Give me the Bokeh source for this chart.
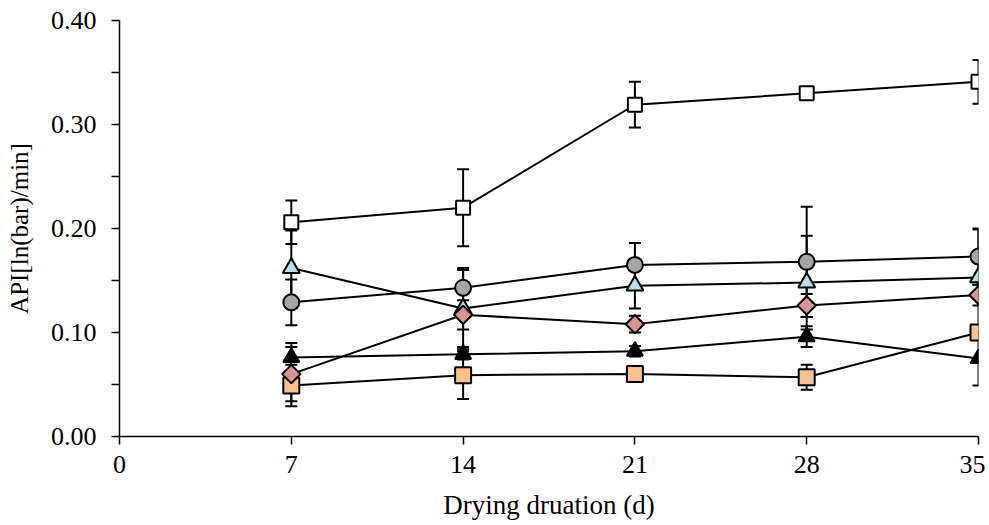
import math
from bokeh.plotting import figure
from bokeh.models import ColumnDataSource, Whisker, TeeHead, NumeralTickFormatter, FixedTicker, Range1d
from bokeh.embed import file_html
from bokeh.resources import INLINE

days = [7, 14, 21, 28, 35]
x_ticks = [0, 7, 14, 21, 28, 35]
y_ticks = [0.0, 0.1, 0.2, 0.3, 0.4]

white_sq = [0.206, 0.220, 0.319, 0.330, 0.341]
white_sq_err = [0.021, 0.037, 0.022, 0.004, 0.021]
grey_circle = [0.129, 0.143, 0.165, 0.168, 0.173]
grey_circle_err = [0.022, 0.019, 0.021, 0.053, 0.027]
blue_tri = [0.162, 0.123, 0.145, 0.148, 0.153]
blue_tri_err = [0.036, 0.037, 0.022, 0.045, 0.046]
pink_diamond = [0.060, 0.117, 0.108, 0.126, 0.136]
pink_diamond_err = [0.026, 0.014, 0.008, 0.011, 0.010]
black_tri = [0.076, 0.079, 0.082, 0.096, 0.075]
black_tri_err = [0.014, 0.005, 0.005, 0.010, 0.026]
orange_sq = [0.049, 0.059, 0.060, 0.057, 0.100]
orange_sq_err = [0.020, 0.023, 0.006, 0.012, 0.006]

FONT = "Liberation Serif"

p = figure(width=985, height=522, output_backend="svg", toolbar_location=None,
           x_range=Range1d(0, 35), y_range=Range1d(0, 0.40),
           min_border_left=119, min_border_right=7, min_border_top=20, min_border_bottom=85)
p.outline_line_color = None
p.xgrid.visible = False
p.ygrid.visible = False

# (values, errors, marker, fill, size, angle)
series = [
    (orange_sq, orange_sq_err, "square", "#FAC090", 16, 0),
    (black_tri, black_tri_err, "triangle", "black", 16, 0),
    (blue_tri, blue_tri_err, "triangle", "#B7DEE8", 17, 0),
    (pink_diamond, pink_diamond_err, "square", "#D99594", 13, math.pi / 4),
    (grey_circle, grey_circle_err, "circle", "#A6A6A6", 16, 0),
    (white_sq, white_sq_err, "square", "white", 14, 0),
]

for vals, errs, marker, color, size, ang in series:
    src = ColumnDataSource(dict(x=days, y=vals,
                                upper=[v + e for v, e in zip(vals, errs)],
                                lower=[v - e for v, e in zip(vals, errs)]))
    w = Whisker(source=src, base="x", upper="upper", lower="lower", dimension="height",
                line_color="black", line_width=2,
                upper_head=TeeHead(size=12, line_color="black", line_width=2),
                lower_head=TeeHead(size=12, line_color="black", line_width=2))
    p.add_layout(w)

for vals, errs, marker, color, size, ang in series:
    src = ColumnDataSource(dict(x=days, y=vals))
    p.line("x", "y", source=src, line_color="black", line_width=2)
    p.scatter("x", "y", source=src, marker=marker, size=size, angle=ang, fill_color=color,
              line_color="black", line_width=2)

p.xaxis.ticker = FixedTicker(ticks=x_ticks)
p.yaxis.ticker = FixedTicker(ticks=y_ticks, minor_ticks=[0.05, 0.15, 0.25, 0.35])
p.yaxis.formatter = NumeralTickFormatter(format="0.00")

for ax in (p.xaxis, p.yaxis):
    ax.axis_line_color = "black"
    ax.axis_line_width = 1.5
    ax.major_tick_line_color = "black"
    ax.major_tick_line_width = 1.5
    ax.major_tick_in = 0
    ax.major_tick_out = 8
    ax.minor_tick_line_color = "black"
    ax.minor_tick_line_width = 1.5
    ax.minor_tick_in = 0
    ax.minor_tick_out = 8
    ax.major_label_text_font = FONT
    ax.major_label_text_font_size = "26px"
    ax.major_label_text_color = "black"
    ax.axis_label_text_font = FONT
    ax.axis_label_text_font_style = "normal"
    ax.axis_label_text_color = "black"

p.xaxis.axis_label_text_font_size = "27px"
p.yaxis.axis_label_text_font_size = "25px"
p.xaxis.minor_tick_line_color = None
p.xaxis.axis_label = "Drying druation (d)"
p.yaxis.axis_label = "API[ln(bar)/min]"
p.xaxis.major_label_standoff = 11
p.yaxis.major_label_standoff = 15
p.xaxis.axis_label_standoff = 14
p.yaxis.axis_label_standoff = 15

open("out.html", "w").write(file_html(p, INLINE))
